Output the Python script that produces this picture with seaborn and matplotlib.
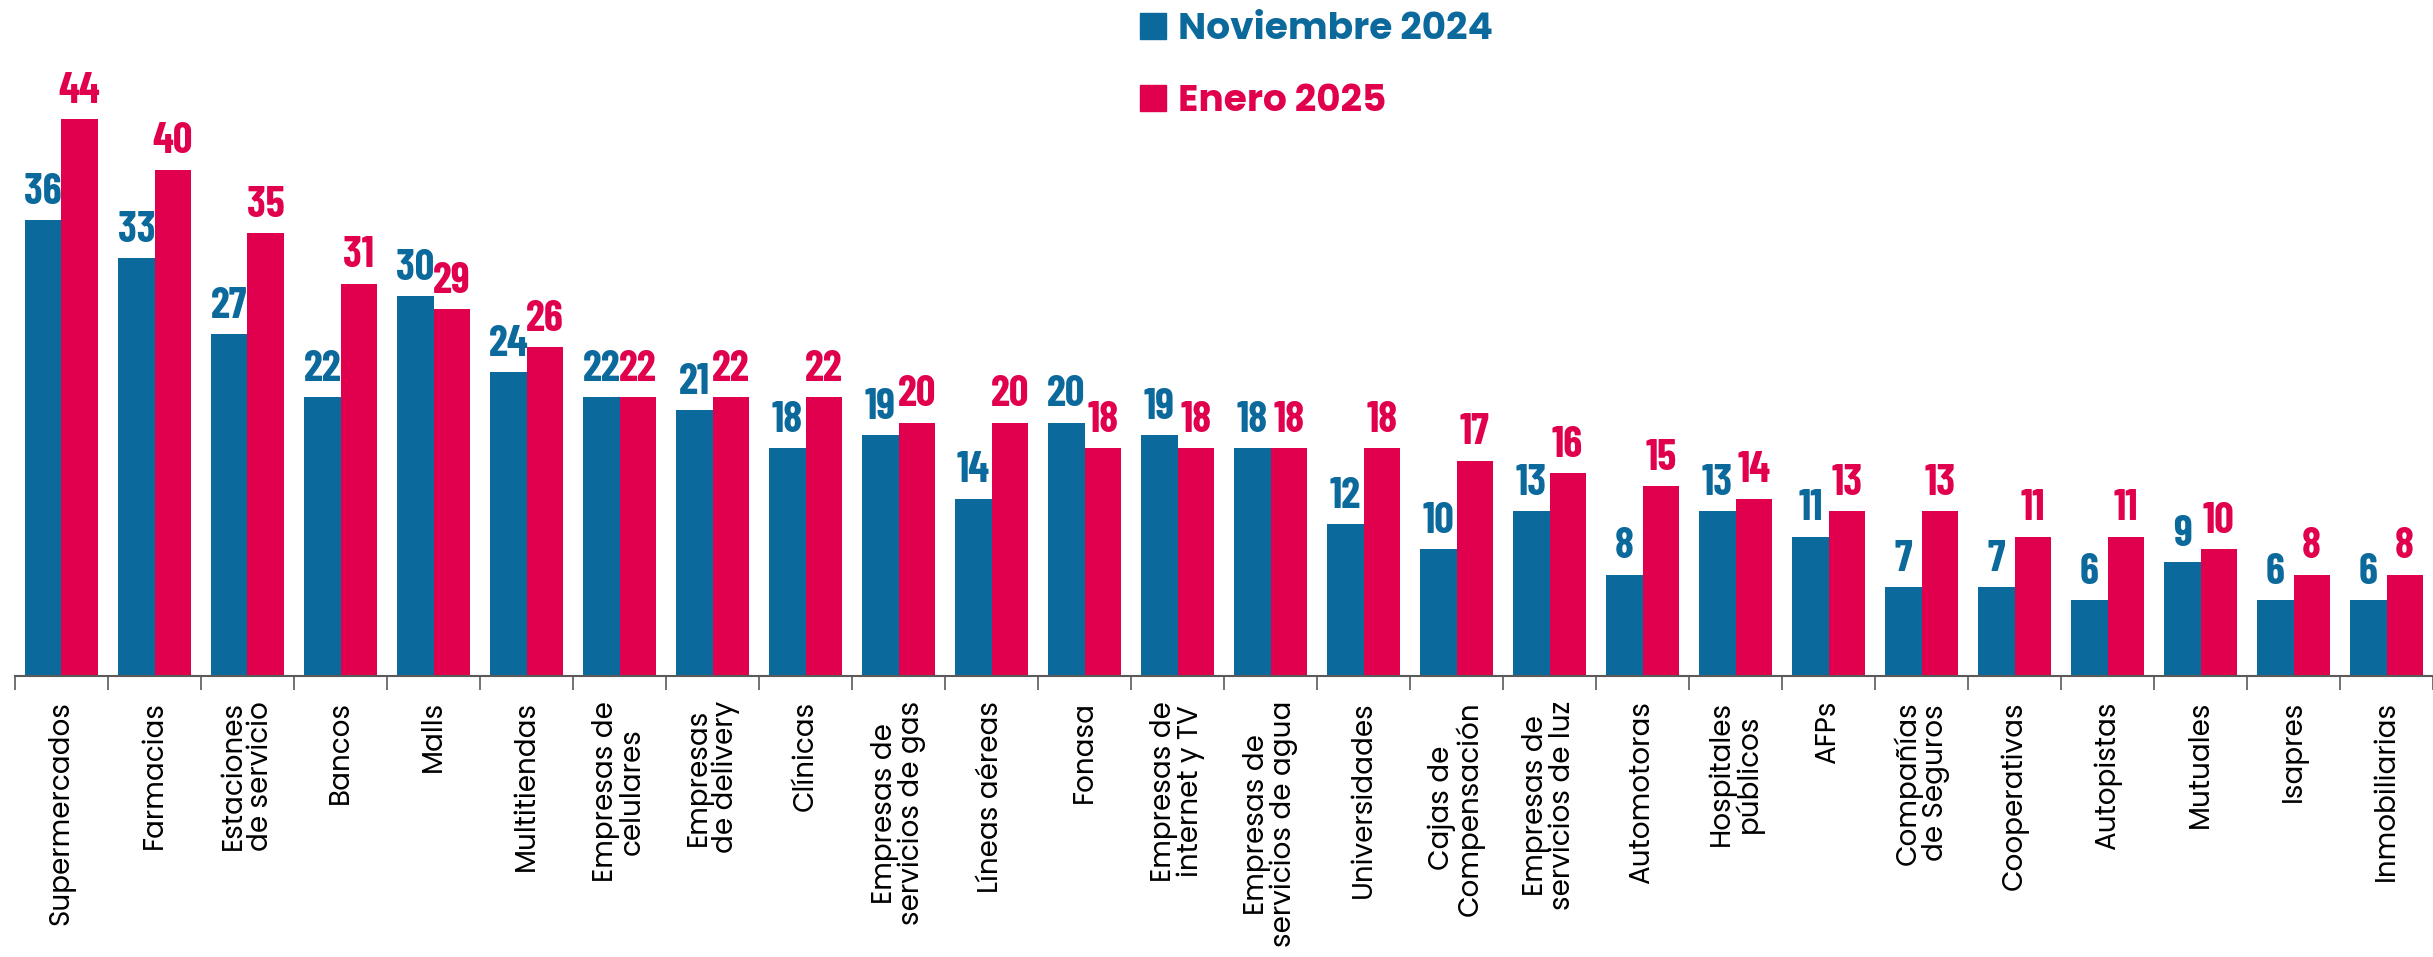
import pandas as pd
import seaborn as sns
import matplotlib.pyplot as plt
from matplotlib.patches import Patch
from matplotlib.ticker import FixedLocator

categorias = [
    "Supermercados", "Farmacias", "Estaciones\nde servicio", "Bancos", "Malls",
    "Multitiendas", "Empresas de\ncelulares", "Empresas\nde delivery", "Clínicas",
    "Empresas de\nservicios de gas", "Líneas aéreas", "Fonasa",
    "Empresas de\ninternet y TV", "Empresas de\nservicios de agua", "Universidades",
    "Cajas de\nCompensación", "Empresas de\nservicios de luz", "Automotoras",
    "Hospitales\npúblicos", "AFPs", "Compañías\nde Seguros", "Cooperativas",
    "Autopistas", "Mutuales", "Isapres", "Inmobiliarias",
]
nov_2024 = [36, 33, 27, 22, 30, 24, 22, 21, 18, 19, 14, 20, 19, 18, 12, 10, 13, 8, 13, 11, 7, 7, 6, 9, 6, 6]
ene_2025 = [44, 40, 35, 31, 29, 26, 22, 22, 22, 20, 20, 18, 18, 18, 18, 17, 16, 15, 14, 13, 13, 11, 11, 10, 8, 8]
series = ["Noviembre 2024", "Enero 2025"]

AZUL = "#0B699C"
ROJO = "#E0004D"

df = pd.DataFrame({
    "categoria": categorias * 2,
    "valor": nov_2024 + ene_2025,
    "periodo": [series[0]] * len(categorias) + [series[1]] * len(categorias),
})

sns.set_theme(style="white")
plt.rcParams["font.family"] = ["Poppins", "DejaVu Sans"]

fig = plt.figure(figsize=(24.33, 9.57), dpi=100)
ax = fig.add_axes([15 / 2433, 1 - 676 / 957, 1 - 15 / 2433, 676 / 957])

sns.barplot(data=df, x="categoria", y="valor", hue="periodo", palette=[AZUL, ROJO],
            width=0.78, saturation=1, linewidth=0, legend=False, ax=ax)

ax.set_xlim(-0.5, len(categorias) - 0.5)
ax.set_ylim(0, 53.4)
ax.set_xlabel("")
ax.set_ylabel("")
ax.set_yticks([])
for s in ["top", "right", "left"]:
    ax.spines[s].set_visible(False)
ax.spines["bottom"].set_color("#5a5a5a")
ax.spines["bottom"].set_linewidth(1.5)

ax.tick_params(axis="x", which="major", length=0, pad=18)
for lab in ax.get_xticklabels():
    lab.set_rotation(90)
    lab.set_ha("center")
    lab.set_va("top")
    lab.set_multialignment("center")
    lab.set_fontsize(20)
    lab.set_fontweight("normal")
    lab.set_linespacing(0.95)
    lab.set_color("black")

# separadores entre grupos
ax.xaxis.set_minor_locator(FixedLocator([i - 0.5 for i in range(len(categorias) + 1)]))
ax.tick_params(axis="x", which="minor", bottom=True, length=10, width=1.2, color="#5a5a5a")

for cont, col in zip(ax.containers, [AZUL, ROJO]):
    ax.bar_label(cont, padding=6, color=col, fontsize=31, fontweight="bold",
                 family=["Barlow Condensed", "DejaVu Sans"])

handles = [Patch(color=AZUL), Patch(color=ROJO)]
leg = fig.legend(handles, series, loc="upper left", bbox_to_anchor=(1140 / 2433, 1 - 12 / 957),
                 frameon=False, borderpad=0, borderaxespad=0, handlelength=0.68, handleheight=0.68,
                 handletextpad=0.33, labelspacing=0.93,
                 prop={"family": ["Poppins", "Open Sans"], "weight": "bold", "size": 27})
for t, col in zip(leg.get_texts(), [AZUL, ROJO]):
    t.set_color(col)

fig.savefig("out.png", dpi=100)
